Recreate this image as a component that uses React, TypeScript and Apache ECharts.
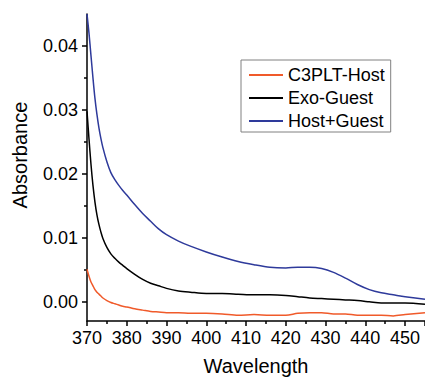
import React, { useEffect, useRef } from "react";
import * as echarts from "echarts";

const wavelengths = [370, 370.5, 371, 371.5, 372, 372.5, 373, 373.5, 374, 375, 376, 377, 378, 379, 380, 382, 384, 386, 388, 390, 393, 396, 400, 404, 408, 412, 416, 420, 423, 426, 429, 432, 435, 438, 441, 444, 447, 450, 455];

const hostAbs = [0.0051, 0.004, 0.0031, 0.0025, 0.0019, 0.0015, 0.0012, 0.0009, 0.0006, 0.0002, -0.0001, -0.0003, -0.0005, -0.0007, -0.0008, -0.0011, -0.0013, -0.0015, -0.0016, -0.0017, -0.0017, -0.0018, -0.0018, -0.0019, -0.0021, -0.002, -0.0021, -0.0021, -0.0018, -0.0017, -0.0017, -0.0019, -0.0019, -0.0021, -0.0021, -0.0021, -0.0022, -0.002, -0.0017];

const guestAbs = [0.0298, 0.0255, 0.0215, 0.0182, 0.0156, 0.0136, 0.0121, 0.0109, 0.0099, 0.0085, 0.0075, 0.0068, 0.0062, 0.0057, 0.0052, 0.0043, 0.0035, 0.0029, 0.0025, 0.0021, 0.0017, 0.0015, 0.0013, 0.0013, 0.0012, 0.0011, 0.0011, 0.001, 0.0008, 0.0006, 0.0005, 0.0004, 0.0003, 0.0002, 0.0, -0.0002, -0.0002, -0.0002, -0.0004];

const complexAbs = [0.045, 0.042, 0.0385, 0.035, 0.0318, 0.0293, 0.0272, 0.0255, 0.0241, 0.0219, 0.0202, 0.0191, 0.0182, 0.0174, 0.0167, 0.0152, 0.0138, 0.0126, 0.0114, 0.0105, 0.0095, 0.0087, 0.0078, 0.007, 0.0063, 0.0058, 0.0054, 0.0053, 0.0054, 0.0054, 0.0052, 0.0046, 0.0037, 0.0027, 0.0019, 0.0014, 0.0011, 0.0008, 0.0004];

const seriesNames = ["C3PLT-Host", "Exo-Guest", "Host+Guest"];
const seriesColors = ["#f05a2a", "#000000", "#2e3a9b"];
const yMajorTicks = [0, 0.01, 0.02, 0.03, 0.04];
const yMinorTicks = [0.005, 0.015, 0.025, 0.035];

const FONT = "'Liberation Sans', Arial, sans-serif";

export default function App() {
  const ref = useRef<HTMLDivElement>(null);
  useEffect(() => {
    if (!ref.current) return;
    const chart = echarts.init(ref.current, undefined, { renderer: "svg" });
    const allData = [hostAbs, guestAbs, complexAbs];
    const yBase = {
      type: "value" as const,
      min: -0.003,
      max: 0.045,
      splitLine: { show: false },
    };
    chart.setOption({
      animation: false,
      backgroundColor: "#ffffff",
      grid: { left: 87, right: 0, top: 14, bottom: 54 },
      legend: {
        orient: "vertical",
        left: 241,
        top: 60,
        padding: [6, 6, 2, 8],
        itemGap: 5,
        itemWidth: 34,
        itemHeight: 2,
        icon: "rect",
        borderColor: "#808080",
        borderWidth: 1,
        borderRadius: 0,
        textStyle: { fontFamily: FONT, fontSize: 18, color: "#000", lineHeight: 18 },
        data: seriesNames,
      },
      xAxis: {
        type: "value",
        min: 370,
        max: 455,
        interval: 10,
        name: "Wavelength",
        nameLocation: "middle",
        nameGap: 35,
        nameTextStyle: { fontFamily: FONT, fontSize: 20, color: "#000" },
        axisLine: { show: true, onZero: false, lineStyle: { color: "#000", width: 1.5 } },
        axisTick: { show: true, inside: false, length: 5, lineStyle: { color: "#000", width: 1.5 } },
        minorTick: { show: true, splitNumber: 2, length: 3, lineStyle: { color: "#000", width: 1.5 } },
        axisLabel: { fontFamily: FONT, fontSize: 18, color: "#000", margin: 8, showMaxLabel: false },
        splitLine: { show: false },
      },
      yAxis: [
        {
          ...yBase,
          axisLine: { show: true, onZero: false, lineStyle: { color: "#000", width: 1.5 } },
          axisTick: { show: true, inside: false, length: 5, customValues: yMajorTicks, lineStyle: { color: "#000", width: 1.5 } },
          axisLabel: {
            fontFamily: FONT,
            fontSize: 18,
            color: "#000",
            margin: 9,
            customValues: yMajorTicks,
            formatter: (v: number) => v.toFixed(2),
          },
        },
        {
          ...yBase,
          position: "left",
          axisLine: { show: false },
          axisTick: { show: true, inside: false, length: 3, customValues: yMinorTicks, lineStyle: { color: "#000", width: 1.5 } },
          axisLabel: { show: false },
        },
      ],
      graphic: [
        {
          type: "text",
          x: 20,
          y: 155,
          rotation: Math.PI / 2,
          style: {
            text: "Absorbance",
            fontFamily: FONT,
            fontSize: 20,
            fill: "#000",
            textAlign: "center",
            textVerticalAlign: "middle",
          },
        },
      ],
      series: seriesNames.map((name, i) => ({
        name,
        type: "line",
        yAxisIndex: 0,
        showSymbol: false,
        symbol: "none",
        smooth: 0.3,
        clip: true,
        color: seriesColors[i],
        lineStyle: { color: seriesColors[i], width: 1.5 },
        data: wavelengths.map((w, j) => [w, allData[i][j]]),
      })),
    });
    return () => chart.dispose();
  }, []);
  return (
    <div
      ref={ref}
      style={{ position: "fixed", left: 0, top: 0, width: 425, height: 381 }}
    />
  );
}
